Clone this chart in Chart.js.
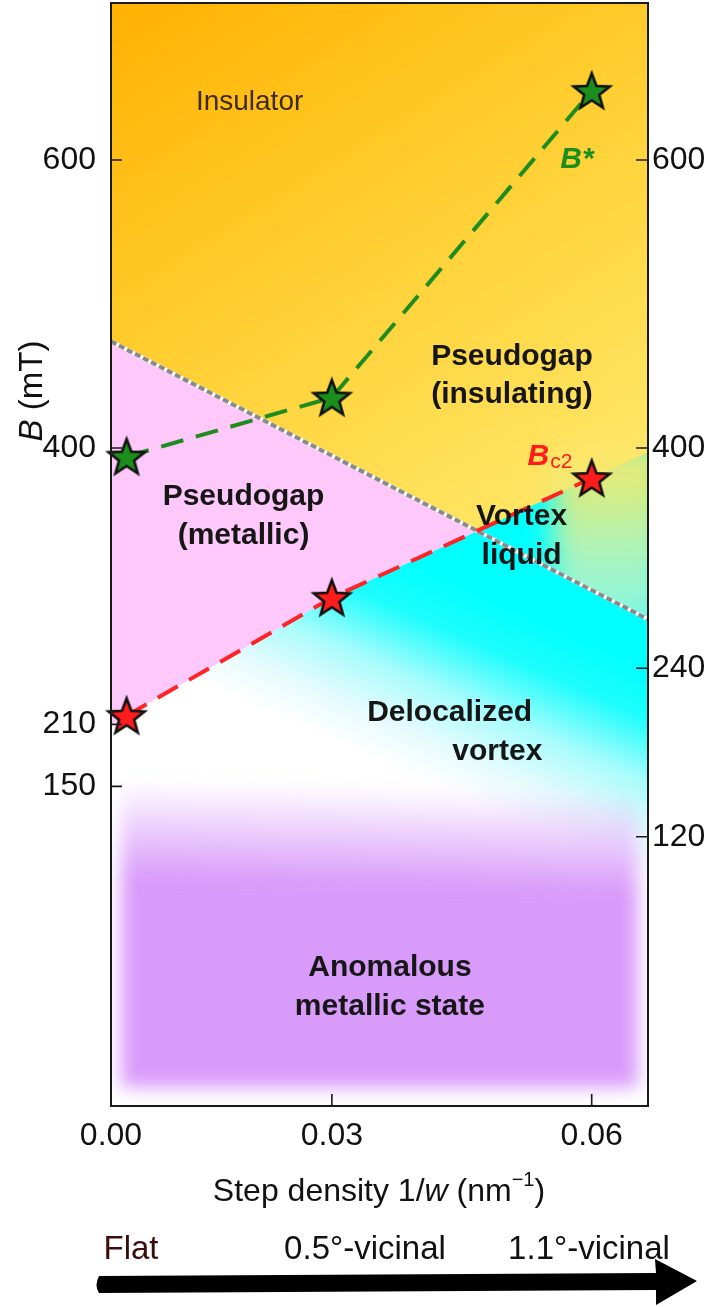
<!DOCTYPE html>
<html>
<head>
<meta charset="utf-8">
<script src="https://cdn.jsdelivr.net/npm/chart.js@4.4.1/dist/chart.umd.min.js"></script>
<style>
  html, body { margin: 0; padding: 0; background: #fff; }
  #wrap { width: 720px; height: 1307px; }
</style>
</head>
<body>
<div id="wrap"><canvas id="chart" width="720" height="1307"></canvas></div>
<script>
// ---- data ----
const stepDensity = [0.0063, 0.03, 0.06];      // 1/w (nm^-1) of the three samples
const bStar = [394, 435, 648];                 // B* (mT)
const bc2 = [214, 296, 379];                   // Bc2 (mT)
const boundaryX = [0.0045, 0.0665];            // metallic / insulating pseudogap boundary
const boundaryB = [474, 281];
const xMin = 0.0045, xMax = 0.0665;
const yMin = -57, yMax = 709;
const xTickValues = [0.0045, 0.03, 0.06];
const xTickLabels = ['0.00', '0.03', '0.06'];
// the lower part of the printed B axis is compressed, so the lower labels sit
// where the figure prints them
const leftTickLabels = ['600', '400', '210', '150'];
const leftTickAt = [600, 400, 208, 165];
const rightTickLabels = ['600', '400', '240', '120'];
const rightTickAt = [600, 400, 247, 130];

const FONT = '"Liberation Sans", Arial, Helvetica, sans-serif';

/**
 * Filled star used as point marker
 */
function starImage(fill) {
    const c = document.createElement('canvas');
    c.width = 44; c.height = 44;
    const g = c.getContext('2d');
    const R = 19, r = 8, cx = 22, cy = 23.5;
    g.beginPath();
    for (let i = 0; i < 10; i++) {
        const a = -Math.PI / 2 + i * Math.PI / 5;
        const rad = i % 2 ? r : R;
        g.lineTo(cx + rad * Math.cos(a), cy + rad * Math.sin(a));
    }
    g.closePath();
    g.fillStyle = fill;
    g.fill();
    g.lineWidth = 2.6;
    g.strokeStyle = '#111';
    g.stroke();
    return c;
}

const greenStar = starImage('#1c8e1c');
const redStar = starImage('#ff1c1c');

function lineAt(xs, ys, x) {
    return ys[0] + (ys[1] - ys[0]) * (x - xs[0]) / (xs[1] - xs[0]);
}

/**
 * Background phase regions and labels
 */
const phasePlugin = {
    id: 'phases',
    beforeDraw(chart) {
        const { ctx, chartArea: a, scales: { x, y } } = chart;
        const px = v => x.getPixelForValue(v);
        const py = v => y.getPixelForValue(v);

        // Bc2 line extended to both edges, and where it crosses the boundary
        const redL = lineAt(stepDensity.slice(0, 2), bc2.slice(0, 2), xMin);
        const redR = lineAt(stepDensity.slice(1), bc2.slice(1), xMax);
        const s2 = (bc2[2] - bc2[1]) / (stepDensity[2] - stepDensity[1]);
        const sb = (boundaryB[1] - boundaryB[0]) / (boundaryX[1] - boundaryX[0]);
        const xi = (boundaryB[0] - sb * boundaryX[0] - bc2[1] + s2 * stepDensity[1]) / (s2 - sb);
        const yi = lineAt(boundaryX, boundaryB, xi);

        const W = a.right - a.left, H = a.bottom - a.top;
        ctx.save();
        ctx.beginPath();
        ctx.rect(a.left, a.top, W, H);
        ctx.clip();

        ctx.fillStyle = '#fff';
        ctx.fillRect(a.left, a.top, W, H);

        // insulator / pseudogap (insulating): orange to yellow
        const upper = new Path2D();
        upper.moveTo(a.left - 2, a.top - 2);
        upper.lineTo(a.right + 2, a.top - 2);
        upper.lineTo(px(xMax), py(boundaryB[1]));
        upper.lineTo(px(xMin), py(boundaryB[0]));
        upper.closePath();
        let g = ctx.createLinearGradient(a.left, a.top, px(0.047), py(300));
        g.addColorStop(0, '#ffb100');
        g.addColorStop(0.45, '#ffcd2e');
        g.addColorStop(1, '#ffe86a');
        ctx.fillStyle = g;
        ctx.fill(upper);

        // vortex liquid -> delocalized vortex: cyan below Bc2, fading to white
        g = ctx.createLinearGradient(px(0.06), py(267), px(0.0508), py(142));
        g.addColorStop(0, '#00ffff');
        g.addColorStop(0.25, '#1cfdfd');
        g.addColorStop(0.55, '#a8fcfc');
        g.addColorStop(0.8, '#e6fbfd');
        g.addColorStop(1, '#ffffff');
        ctx.fillStyle = g;
        ctx.beginPath();
        ctx.moveTo(px(xMin), py(redL));
        stepDensity.forEach((v, i) => ctx.lineTo(px(v), py(bc2[i])));
        ctx.lineTo(px(xMax), py(redR));
        ctx.lineTo(a.right, a.bottom);
        ctx.lineTo(a.left, a.bottom);
        ctx.closePath();
        ctx.fill();

        // pseudogap (metallic): pink
        ctx.fillStyle = '#ffc8fb';
        ctx.beginPath();
        ctx.moveTo(px(xMin), py(boundaryB[0]));
        ctx.lineTo(px(xi), py(yi));
        ctx.lineTo(px(stepDensity[1]), py(bc2[1]));
        ctx.lineTo(px(stepDensity[0]), py(bc2[0]));
        ctx.lineTo(px(xMin), py(redL));
        ctx.closePath();
        ctx.fill();

        // soft yellow -> green -> aqua blend across Bc2 near the right edge
        ctx.save();
        ctx.clip(upper);
        ctx.filter = 'blur(14px)';
        g = ctx.createLinearGradient(0, py(412), 0, py(274));
        g.addColorStop(0, 'rgba(255,228,100,0)');
        g.addColorStop(0.12, 'rgba(255,230,105,0.95)');
        g.addColorStop(0.35, 'rgba(225,236,128,0.92)');
        g.addColorStop(0.65, 'rgba(186,242,188,0.9)');
        g.addColorStop(1, 'rgba(150,246,225,0.85)');
        ctx.fillStyle = g;
        ctx.fillRect(px(0.0555), py(412), a.right + 20 - px(0.0555), py(274) - py(412));
        ctx.filter = 'none';
        ctx.restore();

        // anomalous metallic state: blurred purple block
        ctx.filter = 'blur(9px)';
        g = ctx.createLinearGradient(px(0.0367), py(165), px(0.0357), py(-44));
        g.addColorStop(0, 'rgba(217,155,250,0)');
        g.addColorStop(0.33, 'rgba(217,155,250,1)');
        g.addColorStop(1, 'rgba(217,155,250,1)');
        ctx.fillStyle = g;
        ctx.fillRect(a.left + 10, py(165), W - 20, py(-44) - py(165));
        ctx.filter = 'none';

        ctx.restore();
    },

    afterDatasetsDraw(chart) {
        const { ctx, scales: { x, y } } = chart;
        const px = v => x.getPixelForValue(v);
        const py = v => y.getPixelForValue(v);
        ctx.save();
        ctx.textBaseline = 'middle';
        ctx.textAlign = 'center';

        ctx.fillStyle = '#3f2a0c';
        ctx.font = '28px ' + FONT;
        ctx.fillText('Insulator', px(0.0205), py(640));

        ctx.fillStyle = '#161616';
        ctx.font = 'bold 30px ' + FONT;
        ctx.fillText('Pseudogap', px(0.0508), py(463));
        ctx.fillText('(insulating)', px(0.0508), py(437));
        ctx.fillText('Pseudogap', px(0.0198), py(366));
        ctx.fillText('(metallic)', px(0.0198), py(339));
        ctx.fillText('Vortex', px(0.0519), py(352));
        ctx.fillText('liquid', px(0.0519), py(325));
        ctx.fillText('Delocalized', px(0.0436), py(216));
        ctx.textAlign = 'right';
        ctx.fillText('vortex', px(0.0543), py(189));
        ctx.textAlign = 'center';
        ctx.fillText('Anomalous', px(0.0367), py(39));
        ctx.fillText('metallic state', px(0.0367), py(12));

        // B* label
        ctx.fillStyle = '#1c8e1c';
        ctx.font = 'italic bold 30px ' + FONT;
        ctx.fillText('B*', px(0.0583), py(600));

        // Bc2 label
        ctx.fillStyle = '#ff1c1c';
        ctx.textAlign = 'left';
        const bx = px(0.0526), by = py(394);
        ctx.fillText('B', bx, by);
        const bw = ctx.measureText('B').width;
        ctx.font = '21px ' + FONT;
        ctx.fillText('c2', bx + bw + 1, by + 6);
        ctx.restore();
    },

    afterDraw(chart) {
        const { ctx, chartArea: a, scales: { x, y } } = chart;
        ctx.save();
        // frame
        ctx.strokeStyle = '#1a1a1a';
        ctx.lineWidth = 2;
        ctx.strokeRect(a.left, a.top, a.right - a.left, a.bottom - a.top);

        // inward tick marks
        ctx.beginPath();
        leftTickAt.forEach(v => { const p = y.getPixelForValue(v); ctx.moveTo(a.left, p); ctx.lineTo(a.left + 11, p); });
        rightTickAt.forEach(v => { const p = y.getPixelForValue(v); ctx.moveTo(a.right, p); ctx.lineTo(a.right - 12, p); });
        xTickValues.slice(1).forEach(v => { const p = x.getPixelForValue(v); ctx.moveTo(p, a.bottom); ctx.lineTo(p, a.bottom - 12); });
        ctx.lineWidth = 1.6;
        ctx.stroke();

        ctx.fillStyle = '#111';
        ctx.textBaseline = 'middle';

        // y title: B (mT)
        ctx.save();
        ctx.translate(33, 391);
        ctx.rotate(-Math.PI / 2);
        ctx.font = 'italic 33px ' + FONT;
        const wB = ctx.measureText('B').width;
        ctx.font = '33px ' + FONT;
        const wR = ctx.measureText(' (mT)').width;
        const sx = -(wB + wR) / 2;
        ctx.textAlign = 'left';
        ctx.font = 'italic 33px ' + FONT;
        ctx.fillText('B', sx, 0);
        ctx.font = '33px ' + FONT;
        ctx.fillText(' (mT)', sx + wB, 0);
        ctx.restore();

        // x title: Step density 1/w (nm^-1)
        const parts = [
            ['Step density 1/', '32px ', 0],
            ['w', 'italic 32px ', 0],
            [' (nm', '32px ', 0],
            ['\u22121', '20px ', -12],
            [')', '32px ', 0]
        ];
        let total = 0;
        parts.forEach(p => { ctx.font = p[1] + FONT; total += ctx.measureText(p[0]).width; });
        let cx = 379 - total / 2;
        ctx.textAlign = 'left';
        parts.forEach(p => {
            ctx.font = p[1] + FONT;
            ctx.fillText(p[0], cx, 1192 + p[2]);
            cx += ctx.measureText(p[0]).width;
        });

        // sample labels
        ctx.font = '33px ' + FONT;
        ctx.textAlign = 'center';
        ctx.fillStyle = '#3a0c0c';
        ctx.fillText('Flat', 131, 1250);
        ctx.fillStyle = '#111';
        ctx.fillText('0.5\u00b0-vicinal', 365, 1250);
        ctx.fillText('1.1\u00b0-vicinal', 589, 1250);

        // arrow
        ctx.fillStyle = '#000';
        ctx.beginPath();
        ctx.moveTo(99, 1276);
        ctx.lineTo(656, 1273);
        ctx.lineTo(655, 1259);
        ctx.lineTo(697, 1281);
        ctx.lineTo(656, 1305);
        ctx.lineTo(656, 1290);
        ctx.lineTo(99, 1293);
        ctx.quadraticCurveTo(94, 1285, 99, 1276);
        ctx.closePath();
        ctx.fill();
        ctx.restore();
    }
};

const toXY = (xs, ys) => xs.map((v, i) => ({ x: v, y: ys[i] }));
const noPad = s => { s.paddingTop = 0; s.paddingBottom = 0; s.paddingLeft = 0; s.paddingRight = 0; };

new Chart(document.getElementById('chart'), {
    type: 'scatter',
    data: {
        datasets: [
            {
                label: 'B*',
                data: toXY(stepDensity, bStar),
                showLine: true,
                borderColor: '#1f8c1f',
                borderWidth: 4,
                borderDash: [23, 13],
                pointStyle: greenStar,
                pointRadius: 19
            },
            {
                label: 'Bc2',
                data: toXY(stepDensity, bc2),
                showLine: true,
                borderColor: '#ff2424',
                borderWidth: 4,
                borderDash: [23, 13],
                pointStyle: redStar,
                pointRadius: 19
            },
            {
                label: 'boundary',
                data: toXY(boundaryX, boundaryB),
                showLine: true,
                borderColor: '#8a8a8a',
                borderWidth: 4,
                borderDash: [6, 3],
                pointRadius: 0
            },
            {
                label: 'boundary underlay',
                data: toXY(boundaryX, boundaryB),
                showLine: true,
                borderColor: '#ffffff',
                borderWidth: 4,
                pointRadius: 0
            }
        ]
    },
    options: {
        responsive: false,
        animation: false,
        clip: false,
        layout: { autoPadding: false, padding: { top: 3, left: 0, right: 0, bottom: 0 } },
        plugins: { legend: { display: false }, tooltip: { enabled: false } },
        scales: {
            x: {
                type: 'linear',
                min: xMin,
                max: xMax,
                grid: { display: false, drawTicks: false },
                border: { display: false },
                afterBuildTicks: s => { s.ticks = xTickValues.map(v => ({ value: v })); },
                afterFit: s => { s.height = 201; noPad(s); },
                ticks: {
                    padding: 11,
                    color: '#111',
                    font: { size: 32, family: FONT },
                    callback: (v, i) => xTickLabels[i]
                }
            },
            y: {
                type: 'linear',
                position: 'left',
                min: yMin,
                max: yMax,
                grid: { display: false, drawTicks: false },
                border: { display: false },
                afterBuildTicks: s => { s.ticks = leftTickAt.map(v => ({ value: v })); },
                afterFit: s => { s.width = 111; noPad(s); },
                ticks: {
                    padding: 15,
                    color: '#111',
                    font: { size: 32, family: FONT },
                    callback: (v, i) => leftTickLabels[i]
                }
            },
            y2: {
                type: 'linear',
                position: 'right',
                min: yMin,
                max: yMax,
                grid: { display: false, drawTicks: false },
                border: { display: false },
                afterBuildTicks: s => { s.ticks = rightTickAt.map(v => ({ value: v })); },
                afterFit: s => { s.width = 72; noPad(s); },
                ticks: {
                    padding: 4,
                    color: '#111',
                    font: { size: 32, family: FONT },
                    callback: (v, i) => rightTickLabels[i]
                }
            }
        }
    },
    plugins: [phasePlugin]
});
</script>
</body>
</html>
